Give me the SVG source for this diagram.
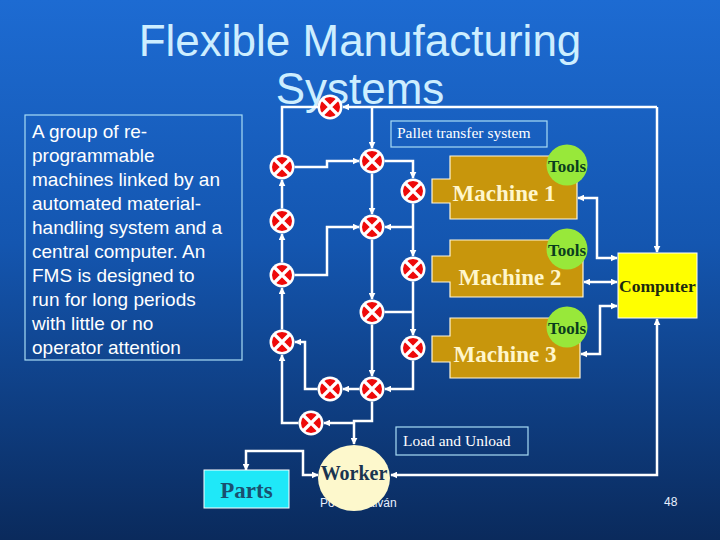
<svg xmlns="http://www.w3.org/2000/svg" xmlns:xlink="http://www.w3.org/1999/xlink" width="720" height="540" viewBox="0 0 720 540">
<defs>
<linearGradient id="bg" x1="0" y1="0" x2="0" y2="1">
<stop offset="0" stop-color="#1d6bd2"/>
<stop offset="0.45" stop-color="#1456b0"/>
<stop offset="1" stop-color="#0a2a5c"/>
</linearGradient>
<marker id="ah" viewBox="0 0 10 10" refX="9" refY="5" markerWidth="7" markerHeight="7" markerUnits="userSpaceOnUse" orient="auto-start-reverse">
<path d="M0,0 L10,5 L0,10 z" fill="#ffffff"/>
</marker>
<g id="valve">
<circle r="12.5" fill="#ffffff"/>
<circle r="10" fill="#ee0a0a"/>
<path d="M-7.5,-7.5 L7.5,7.5 M7.5,-7.5 L-7.5,7.5" stroke="#ffffff" stroke-width="3.2"/>
</g>
</defs>
<style>
.ln{fill:none;stroke:#ffffff;stroke-width:2.5}
.title{font-family:"Liberation Sans",Arial,sans-serif;font-size:44px;fill:#cdeeff;text-anchor:middle}
.body{font-family:"Liberation Sans",Arial,sans-serif;font-size:19px;fill:#ffffff}
.mach{fill:#c8960c;stroke:#fff6d8;stroke-width:1.2}
.mtxt{font-family:"Liberation Serif","Times New Roman",serif;font-weight:bold;font-size:23px;fill:#fff6cc;text-anchor:middle}
.tool{fill:#98e83a}
.ttxt{font-family:"Liberation Serif","Times New Roman",serif;font-weight:bold;font-size:17px;fill:#0a3d1e;text-anchor:middle}
.lbl{font-family:"Liberation Serif","Times New Roman",serif;font-size:15.5px;fill:#ffffff}
.box{fill:none;stroke:#a8dcf5;stroke-width:1.2}
.foot{font-family:"Liberation Sans",Arial,sans-serif;font-size:12px;fill:#e8f0ff}
</style>
<rect width="720" height="540" fill="url(#bg)"/>
<g id="title">
<text class="title" x="360" y="56">Flexible Manufacturing</text>
<text class="title" x="360" y="104">Systems</text>
</g>
<g id="description">
<rect class="box" x="25" y="115" width="217" height="245"/>
<text class="body" x="32" y="138">A group of re-</text>
<text class="body" x="32" y="162">programmable</text>
<text class="body" x="32" y="186">machines linked by an</text>
<text class="body" x="32" y="210">automated material-</text>
<text class="body" x="32" y="234">handling system and a</text>
<text class="body" x="32" y="258">central computer.  An</text>
<text class="body" x="32" y="282">FMS is designed to</text>
<text class="body" x="32" y="306">run for long periods</text>
<text class="body" x="32" y="330">with little or no</text>
<text class="body" x="32" y="354">operator attention</text>
</g>
<g id="footer">
<text class="foot" x="320" y="507" font-size="13">Po<tspan x="368">alván</tspan></text>
<text class="foot" x="664" y="506">48</text>
</g>
<g id="connectors">
<path class="ln" d="M657,107 H343" marker-end="url(#ah)"/>
<path class="ln" d="M657,107 V252" marker-end="url(#ah)"/>
<path class="ln" d="M372,107 V148" marker-end="url(#ah)"/>
<path class="ln" d="M318,107 H282 V155"/>
<path class="ln" d="M294.5,167 H327 V161 H359" marker-end="url(#ah)"/>
<path class="ln" d="M384.5,161 H413 V178" marker-end="url(#ah)"/>
<path class="ln" d="M372,173.5 V214" marker-end="url(#ah)"/>
<path class="ln" d="M282,208.5 V180" marker-end="url(#ah)"/>
<path class="ln" d="M413,203.5 V256" marker-end="url(#ah)"/>
<path class="ln" d="M413,227 H385" marker-end="url(#ah)"/>
<path class="ln" d="M294.5,275 H327 V227 H359" marker-end="url(#ah)"/>
<path class="ln" d="M282,262.5 V234" marker-end="url(#ah)"/>
<path class="ln" d="M372,239.5 V299" marker-end="url(#ah)"/>
<path class="ln" d="M384.5,312 H413"/>
<path class="ln" d="M413,281.5 V335" marker-end="url(#ah)"/>
<path class="ln" d="M282,329.5 V288" marker-end="url(#ah)"/>
<path class="ln" d="M372,324.5 V376" marker-end="url(#ah)"/>
<path class="ln" d="M413,360.5 V389 H385" marker-end="url(#ah)"/>
<path class="ln" d="M359.5,389 H343" marker-end="url(#ah)"/>
<path class="ln" d="M317.5,389 H305 V342 H295" marker-end="url(#ah)"/>
<path class="ln" d="M298.5,423 H282 V355" marker-end="url(#ah)"/>
<path class="ln" d="M372,401.5 V421 H354 V444" marker-end="url(#ah)"/>
<path class="ln" d="M354,423 H324" marker-end="url(#ah)"/>
<path class="ln" d="M578,198 H597 V258 H617" marker-start="url(#ah)" marker-end="url(#ah)"/>
<path class="ln" d="M584,282 H617" marker-start="url(#ah)" marker-end="url(#ah)"/>
<path class="ln" d="M617,306 H600 V354 H581" marker-start="url(#ah)" marker-end="url(#ah)"/>
<path class="ln" d="M657,319 V475 H391" marker-start="url(#ah)" marker-end="url(#ah)"/>
<path class="ln" d="M318,475 H303 V451 H246 V470" marker-start="url(#ah)" marker-end="url(#ah)"/>
</g>
<g id="pallet-label">
<rect class="box" x="391" y="121" width="156" height="26"/>
<text class="lbl" x="397" y="138">Pallet transfer system</text>
</g>
<g id="machine1">
<path class="mach" d="M432,179 H450 V156 H577 V219 H450 V203 H432 Z"/>
<text class="mtxt" x="504" y="201">Machine 1</text>
<circle class="tool" cx="567" cy="165" r="20.5"/>
<text class="ttxt" x="567" y="172">Tools</text>
</g>
<g id="machine2">
<path class="mach" d="M432,256 H450 V240 H583 V297 H450 V282 H432 Z"/>
<text class="mtxt" x="510" y="285">Machine 2</text>
<circle class="tool" cx="567" cy="249" r="20.5"/>
<text class="ttxt" x="567" y="256">Tools</text>
</g>
<g id="machine3">
<path class="mach" d="M432,336 H450 V318 H580 V378 H450 V362 H432 Z"/>
<text class="mtxt" x="505" y="362">Machine 3</text>
<circle class="tool" cx="567" cy="327" r="20.5"/>
<text class="ttxt" x="567" y="334">Tools</text>
</g>
<g id="computer">
<rect x="618" y="253" width="79" height="65" fill="#ffff00" stroke="#ffffff" stroke-width="1"/>
<text x="657.5" y="292" font-family="'Liberation Serif','Times New Roman',serif" font-weight="bold" font-size="17.5" fill="#1c2a10" text-anchor="middle">Computer</text>
</g>
<g id="valves">
<use xlink:href="#valve" x="330" y="107"/>
<use xlink:href="#valve" x="282" y="167"/>
<use xlink:href="#valve" x="372" y="161"/>
<use xlink:href="#valve" x="413" y="191"/>
<use xlink:href="#valve" x="282" y="221"/>
<use xlink:href="#valve" x="372" y="227"/>
<use xlink:href="#valve" x="282" y="275"/>
<use xlink:href="#valve" x="413" y="269"/>
<use xlink:href="#valve" x="372" y="312"/>
<use xlink:href="#valve" x="282" y="342"/>
<use xlink:href="#valve" x="413" y="348"/>
<use xlink:href="#valve" x="330" y="389"/>
<use xlink:href="#valve" x="372" y="389"/>
<use xlink:href="#valve" x="311" y="423"/>
</g>
<g id="load-label">
<rect class="box" x="396" y="427" width="132" height="28"/>
<text class="lbl" x="403" y="446">Load and Unload</text>
</g>
<g id="parts">
<rect x="204" y="470" width="85" height="38" fill="#1fe8f8" stroke="#ffffff" stroke-width="1"/>
<text x="246.5" y="498" font-family="'Liberation Serif','Times New Roman',serif" font-weight="bold" font-size="23" fill="#1a5070" text-anchor="middle">Parts</text>
</g>
<g id="worker">
<ellipse cx="354" cy="478" rx="36" ry="33" fill="#fdf8cc"/>
<text x="354" y="480" font-family="'Liberation Serif','Times New Roman',serif" font-weight="bold" font-size="20" fill="#1a3550" text-anchor="middle">Worker</text>
</g>
</svg>
